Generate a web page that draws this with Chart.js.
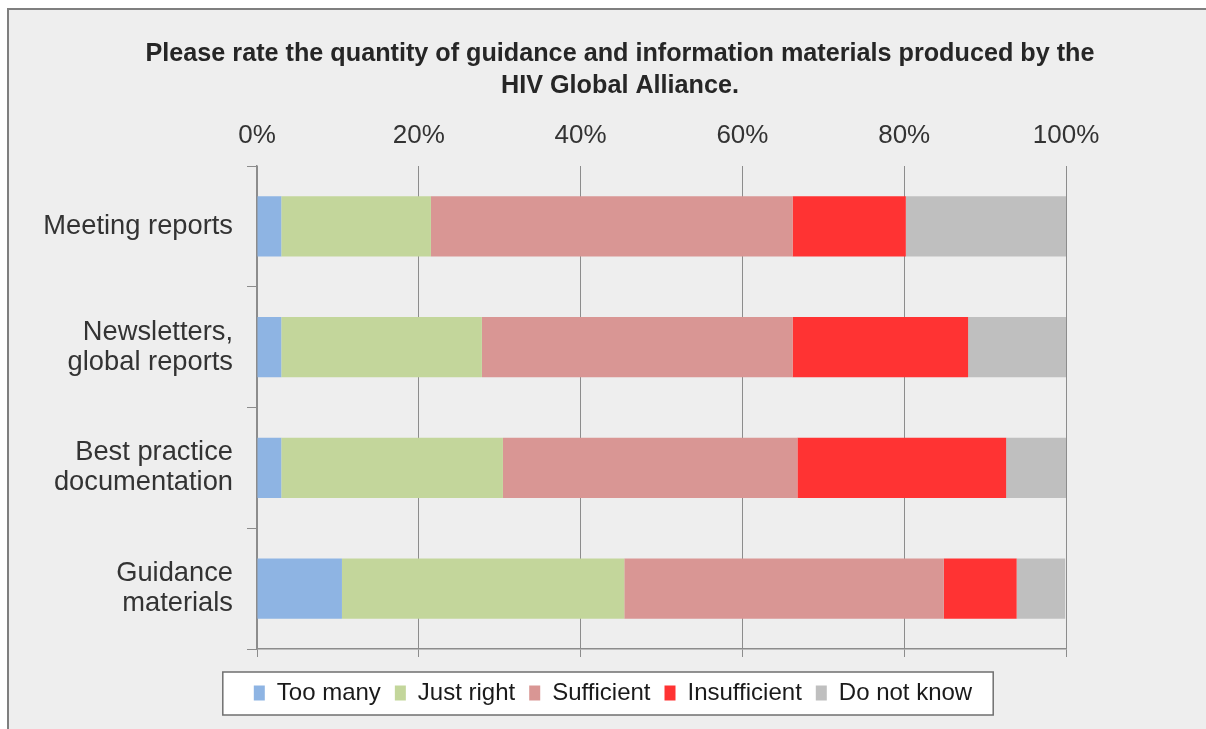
<!DOCTYPE html>
<html>
<head>
<meta charset="utf-8">
<script src="https://cdn.jsdelivr.net/npm/chart.js@4/dist/chart.umd.min.js"></script>
<style>
    body { margin: 0; background: #ffffff; }
    #wrap { width: 1206px; height: 729px; }
</style>
</head>
<body>
<div id="wrap"><canvas id="ratingChart" width="1206" height="729"></canvas></div>
<script>
// values (percent of respondents)
var categories = [
    'Meeting reports',
    ['Newsletters,', 'global reports'],
    ['Best practice', 'documentation'],
    ['Guidance', 'materials']
];
var tooMany      = [3.0, 3.0, 3.0, 10.5];
var justRight    = [18.5, 24.8, 27.4, 34.9];
var sufficient   = [44.7, 38.4, 36.4, 39.5];
var insufficient = [14.0, 21.7, 25.8, 9.0];
var doNotKnow    = [19.8, 12.1, 7.5, 6.0];
var xTicks = [0, 20, 40, 60, 80, 100];

var titleLines = [
    'Please rate the quantity of guidance and information materials produced by the',
    'HIV Global Alliance.'
];

// background, outer frame and the white box behind the legend
var framePlugin = {
    id: 'frame',
    afterLayout: function(chart) {
        // centre title and legend the way the original sheet does
        chart.titleBlock.left = 620 - 540;
        chart.titleBlock.right = 620 + 540;
        chart.legend.left = 613 - 500;
        chart.legend.right = 613 + 500;
    },
    beforeDraw: function(chart) {
        var ctx = chart.ctx;
        ctx.save();
        ctx.fillStyle = '#eeeeee';
        ctx.fillRect(8, 9, chart.width, chart.height);
        ctx.strokeStyle = '#7f7f7f';
        ctx.lineWidth = 2;
        ctx.beginPath();
        ctx.moveTo(8, chart.height + 5);
        ctx.lineTo(8, 9);
        ctx.lineTo(chart.width + 5, 9);
        ctx.stroke();

        var boxes = chart.legend.legendHitBoxes;
        if (boxes && boxes.length) {
            var first = boxes[0];
            var last = boxes[boxes.length - 1];
            var left = first.left - 31;
            var right = last.left + last.width + 21;
            var mid = first.top + first.height / 2;
            ctx.fillStyle = '#ffffff';
            ctx.fillRect(left, mid - 21, right - left, 43);
            ctx.strokeStyle = '#6f6f6f';
            ctx.lineWidth = 1.5;
            ctx.strokeRect(left, mid - 21, right - left, 43);
        }
        ctx.restore();
    }
};

var ctx = document.getElementById('ratingChart').getContext('2d');
var ratingChart = new Chart(ctx, {
    type: 'bar',
    data: {
        labels: categories,
        datasets: [
            { label: 'Too many', data: tooMany, backgroundColor: '#8eb4e3' },
            { label: 'Just right', data: justRight, backgroundColor: '#c3d69b' },
            { label: 'Sufficient', data: sufficient, backgroundColor: '#d99694' },
            { label: 'Insufficient', data: insufficient, backgroundColor: '#ff3333' },
            { label: 'Do not know', data: doNotKnow, backgroundColor: '#bfbfbf' }
        ]
    },
    options: {
        indexAxis: 'y',
        responsive: false,
        animation: false,
        datasets: {
            bar: { categoryPercentage: 0.5, barPercentage: 1.0, borderWidth: 0 }
        },
        layout: {
            padding: { left: 20, right: 140, top: 0, bottom: 14 }
        },
        scales: {
            x: {
                position: 'top',
                stacked: true,
                min: 0,
                max: 100,
                afterBuildTicks: function(scale) {
                    scale.ticks = xTicks.map(function(v) { return { value: v }; });
                },
                afterFit: function(scale) { scale.height = 46; },
                ticks: {
                    padding: 15,
                    color: '#333333',
                    font: { family: 'Liberation Sans', size: 26 },
                    callback: function(value) { return value + '%'; }
                },
                grid: { color: '#8c8c8c', lineWidth: 1, drawTicks: false },
                border: { display: false }
            },
            x2: {
                position: 'bottom',
                min: 0,
                max: 100,
                afterBuildTicks: function(scale) {
                    scale.ticks = xTicks.map(function(v) { return { value: v }; });
                },
                afterFit: function(scale) { scale.height = 18; },
                ticks: { display: false },
                grid: { drawOnChartArea: false, tickLength: 8, color: '#8c8c8c' },
                border: { display: true, color: '#8c8c8c', width: 1.5 }
            },
            y: {
                stacked: true,
                afterFit: function(scale) { scale.width = 237; },
                ticks: {
                    padding: 14,
                    color: '#333333',
                    font: { family: 'Liberation Sans', size: 27.3, lineHeight: 1.1 }
                },
                grid: { drawOnChartArea: false, tickLength: 10, color: '#8c8c8c' },
                border: { display: true, color: '#8c8c8c', width: 1.5 }
            }
        },
        plugins: {
            title: {
                display: true,
                text: titleLines,
                color: '#262626',
                font: { family: 'Liberation Sans', size: 25.2, weight: 'bold', lineHeight: 1.27 },
                padding: { top: 38, bottom: 18 }
            },
            legend: {
                position: 'bottom',
                labels: {
                    boxWidth: 11,
                    boxHeight: 15,
                    padding: 14,
                    color: '#1a1a1a',
                    font: { family: 'Liberation Sans', size: 24 }
                }
            },
            tooltip: { enabled: false }
        }
    },
    plugins: [framePlugin]
});
</script>
</body>
</html>
